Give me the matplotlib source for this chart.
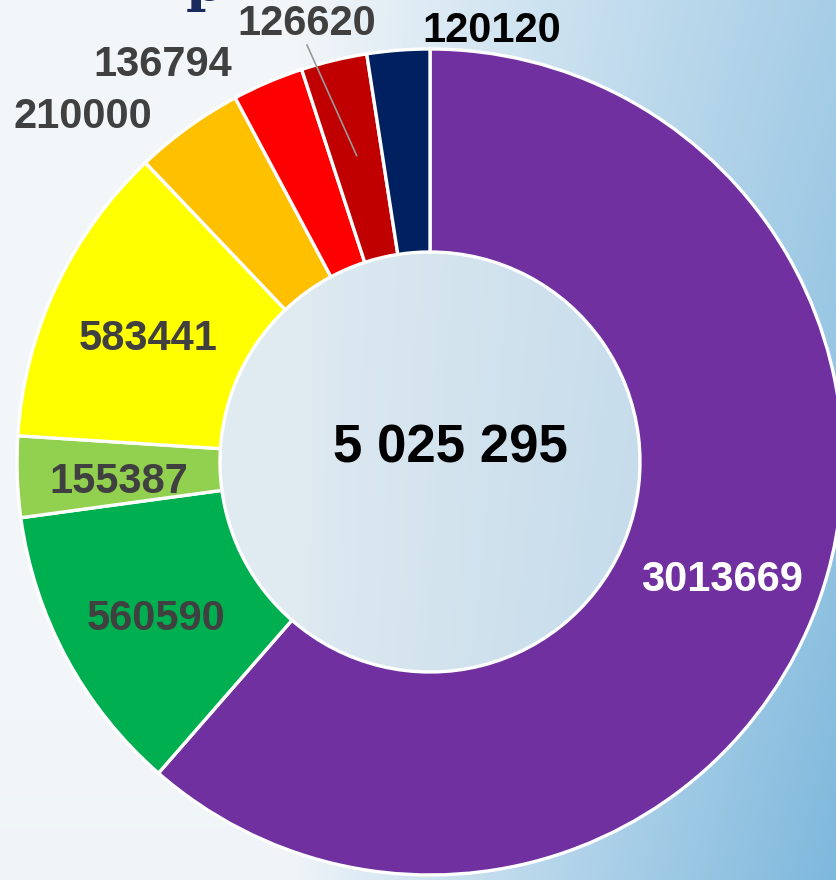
import matplotlib
matplotlib.use("Agg")
import matplotlib.pyplot as plt
import numpy as np

W, H = 836, 880
plt.rcParams["font.family"] = ["Liberation Sans", "DejaVu Sans"]

values = [3013669, 560590, 155387, 583441, 210000, 136794, 126620, 120120]
colors = ["#7030A0", "#00B050", "#92D050", "#FFFF00", "#FFC000", "#FF0000", "#C00000", "#002060"]
label_colors = ["white", "#404040", "#404040", "#404040", "#404040", "#404040", "#404040", "black"]
total_text = "5 025 295"

# outside label anchors (pixel coords, y from top) for the thin slices
outside_pos = {4: (83, 117), 5: (163, 65), 6: (307, 24), 7: (492, 31)}

CX, CY, R, HOLE = 430, H - 462, 413, 210

fig = plt.figure(figsize=(W / 100, H / 100), dpi=100)

# background: soft white-to-blue wash
bg = fig.add_axes([0, 0, 1, 1])
xx, yy = np.meshgrid(np.linspace(0, 1, 400), np.linspace(0, 1, 420))
w = np.clip((xx - 0.35) / 0.65, 0, 1) ** 0.9 * (0.62 + 0.3 * yy) + 0.1 * np.clip(yy - 0.7, 0, 1)
light = np.array([0.955, 0.967, 0.978])
blue = np.array([0.47, 0.71, 0.86])
img = light[None, None, :] * (1 - w[..., None]) + blue[None, None, :] * w[..., None]
bg.imshow(img, extent=[0, W, 0, H], origin="upper", aspect="auto")
bg.set_xlim(0, W); bg.set_ylim(0, H); bg.axis("off")

ax = fig.add_axes([0, 0, 1, 1])
ax.patch.set_alpha(0)

# faint see-through hole
ax.add_patch(plt.Circle((CX, CY), HOLE, facecolor="#d3e2ec", alpha=0.6, edgecolor="none", zorder=1))

wedges, _ = ax.pie(values, colors=colors, startangle=90, counterclock=False,
                   radius=R, center=(CX, CY), frame=True,
                   wedgeprops=dict(width=R - HOLE, edgecolor="white", linewidth=2.4))
ax.set_xlim(0, W); ax.set_ylim(0, H); ax.axis("off")
ax.set_aspect("equal")

mid_r = (R + HOLE) / 2
for i, (wdg, v) in enumerate(zip(wedges, values)):
    if i in outside_pos:
        px, py = outside_pos[i]
        ax.text(px, H - py, str(v), ha="center", va="center", fontsize=30,
                fontweight="bold", color=label_colors[i], zorder=5)
    else:
        a = np.radians((wdg.theta1 + wdg.theta2) / 2)
        ax.text(CX + mid_r * np.cos(a), CY + mid_r * np.sin(a) - 9, str(v), ha="center",
                va="center", fontsize=30, fontweight="bold", color=label_colors[i], zorder=5)

# leader line for the dark red slice
a6 = np.radians((wedges[6].theta1 + wedges[6].theta2) / 2)
ax.plot([307, CX + 315 * np.cos(a6)], [H - 45, CY + 315 * np.sin(a6)],
        color="#9a9a9a", linewidth=1.2, zorder=4)

ax.text(450, H - 448, total_text, ha="center", va="center", fontsize=38,
        fontweight="bold", color="black", zorder=5)

# cut-off title fragment at the top edge
fig.text(205 / W, 1.0, "р", ha="center", va="baseline", fontsize=40,
         fontweight="bold", color="#1a2a5e", family="DejaVu Serif")

fig.savefig("out.png", dpi=100)
